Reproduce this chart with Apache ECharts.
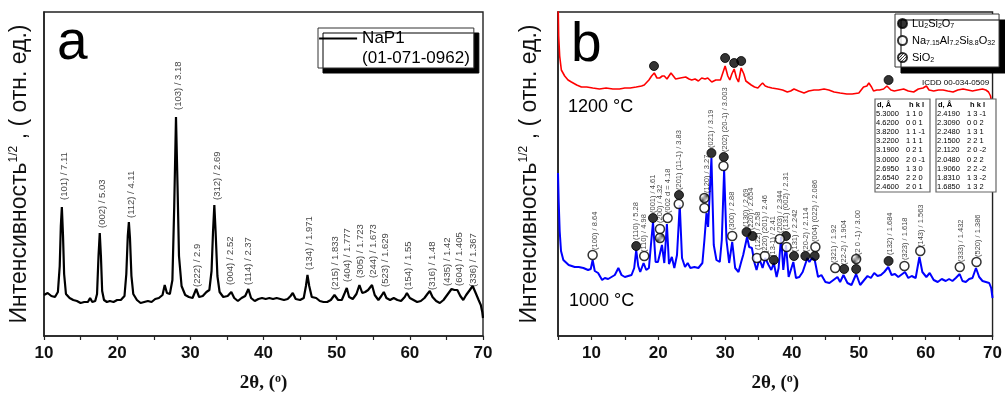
<!DOCTYPE html>
<html><head><meta charset="utf-8">
<script src="https://cdn.jsdelivr.net/npm/echarts@6/dist/echarts.min.js"></script>
<style>html,body{margin:0;padding:0;background:#fff}#c{width:1005px;height:399px}</style>
</head><body><div id="c"></div>
<script>
// ---------- Panel a: NaP1 pattern (2theta, intensity) ----------
const naP1 = [
[10.0,41],[10.5,43],[11.0,40],[11.5,39],[11.9,44],[12.15,70],[12.3,110],[12.44,129],[12.6,100],[12.75,62],[13.0,42],[13.5,38],[14.0,36],[14.5,35],[15.0,33],[15.5,34],[16.0,34],[16.3,38],[16.6,34],[17.0,35],[17.25,42],[17.45,80],[17.62,103],[17.78,80],[17.95,45],[18.2,36],[18.6,34],[19.0,35],[19.5,34],[20.0,36],[20.5,36],[21.0,40],[21.25,62],[21.45,100],[21.6,114],[21.75,98],[21.95,60],[22.2,42],[22.7,36],[23.2,33],[23.7,34],[24.2,35],[24.7,34],[25.2,37],[25.7,38],[26.2,41],[26.5,51],[26.8,43],[27.2,42],[27.55,56],[27.8,130],[28.04,219],[28.25,150],[28.45,80],[28.8,50],[29.3,41],[29.8,39],[30.3,38],[30.8,47],[31.2,39],[31.7,40],[32.2,44],[32.6,46],[32.9,65],[33.1,104],[33.28,131],[33.45,105],[33.7,60],[34.0,44],[34.5,39],[35.1,40],[35.6,44],[36.0,38],[36.5,35],[37.0,38],[37.5,40],[37.93,47],[38.3,38],[38.8,35],[39.3,37],[39.8,38],[40.3,37],[40.8,38],[41.3,37],[41.8,38],[42.3,37],[42.8,36],[43.3,37],[43.7,40],[44.0,43],[44.4,37],[45.0,36],[45.5,38],[45.8,50],[46.01,61],[46.25,50],[46.6,39],[47.2,38],[47.7,35],[48.2,34],[48.7,34],[49.2,36],[49.7,41],[50.2,36],[50.7,36],[51.1,43],[51.38,48],[51.7,39],[52.2,37],[52.7,42],[53.11,51],[53.5,43],[53.9,44],[54.3,46],[54.83,51],[55.2,41],[55.7,36],[56.1,40],[56.44,44],[56.8,38],[57.3,36],[57.8,38],[58.3,36],[58.8,35],[59.3,39],[59.6,43],[60.0,38],[60.5,36],[61.0,34],[61.5,35],[62.0,38],[62.4,42],[62.73,45],[63.1,39],[63.6,35],[64.1,33],[64.6,36],[65.1,41],[65.7,47],[66.1,46],[66.49,46],[66.9,40],[67.3,36],[67.7,41],[68.2,46],[68.59,50],[69.0,43],[69.4,36],[69.7,31],[69.9,24],[70.0,18]
];
const aLabels = ['(101) / 7.11','(002) / 5.03','(112) / 4.11','(103) / 3.18','(222) / 2.9','(312) / 2.69','(004) / 2.52','(114) / 2.37','(134) / 1.971','(215) / 1.833','(404) / 1.777','(305) / 1.723','(244) / 1.673','(523) / 1.629','(154) / 1.55','(316) / 1.48','(435) / 1.42','(604) / 1.405','(336) / 1.367'];
const aLabelX = [12.73,17.93,21.89,28.31,30.91,33.64,35.42,37.88,46.22,49.77,51.41,53.19,54.96,56.6,59.75,63.03,65.08,66.72,68.63];
const aLabelY = [136,108,118,226,49,136,51,51,66,46,54,58,58,49,46,46,50,50,49];

// ---------- Panel b ----------
const red1200 = [
[5.0,340],[5.1,300],[5.25,280],[5.5,266],[6.0,260],[6.5,256],[7.0,254],[7.8,251],[8.5,249],[9.3,249],[10.2,248],[11.2,247],[12.2,248],[13.2,247],[14.2,247],[15.0,248],[15.8,248],[16.7,249],[17.5,250],[17.9,251],[18.6,256],[19.0,260],[19.4,263],[19.8,258],[20.2,258],[20.6,260],[20.9,260],[21.3,257],[21.9,263],[22.6,257],[23.3,258],[24.1,259],[24.6,257],[25.0,256],[25.5,257],[26.0,255],[26.5,258],[27.0,257],[27.4,258],[28.0,254],[28.6,256],[29.3,256],[29.6,262],[30.0,270],[30.4,260],[30.7,256],[31.0,262],[31.35,267],[31.7,258],[32.0,254],[32.4,268],[32.8,262],[33.1,255],[33.5,253],[33.9,251],[34.4,249],[34.9,248],[35.3,251],[35.6,253],[36.0,250],[36.4,249],[37.0,248],[37.9,247],[38.6,246],[39.3,244],[39.8,245],[40.3,247],[41.0,245],[41.8,243],[42.5,245],[43.3,246],[44.0,246],[44.8,247],[45.5,246],[46.3,244],[47.2,243],[48.2,242],[49.0,242],[50.0,243],[50.7,249],[51.2,250],[51.5,253],[51.9,249],[52.2,245],[52.7,246],[53.1,246],[53.7,247],[54.2,250],[54.45,250],[54.8,246],[55.3,245],[56.0,246],[56.7,247],[57.4,245],[58.2,244],[58.9,247],[59.6,248],[60.1,250],[60.5,246],[61.2,245],[61.9,246],[62.6,246],[63.3,245],[64.1,244],[64.8,246],[65.6,247],[66.3,246],[67.0,245],[67.7,246],[68.5,247],[69.0,246],[69.4,244],[69.7,240],[69.9,232],[70.0,228]
];
const blue1000 = [
[5.0,163],[5.1,135],[5.25,105],[5.45,85],[5.8,76],[6.6,71],[7.5,69],[8.1,69],[8.8,68],[9.5,66],[9.9,67],[10.18,76],[10.5,65],[11.0,63],[11.6,56],[12.0,58],[12.5,57],[13.0,59],[13.5,61],[14.03,68],[14.5,61],[15.0,59],[15.5,60],[16.0,61],[16.4,68],[16.7,86],[17.0,70],[17.3,64],[17.8,73],[18.2,66],[18.6,68],[18.9,91],[19.21,114],[19.6,74],[19.95,74],[20.55,91],[20.9,73],[21.29,112],[21.6,72],[22.03,79],[22.4,68],[22.8,81],[23.21,131],[23.55,78],[24.0,69],[24.4,73],[24.8,68],[25.4,69],[26.0,68],[26.6,73],[26.9,96],[27.21,123],[27.45,109],[27.95,178],[28.3,91],[28.7,76],[29.2,74],[29.5,96],[29.85,166],[30.2,96],[30.6,73],[31.06,94],[31.5,68],[32.0,64],[32.4,74],[32.7,81],[33.28,99],[33.6,89],[34.0,88],[34.4,73],[34.7,66],[35.0,74],[35.3,74],[35.6,68],[36.0,78],[36.5,71],[36.9,66],[37.28,73],[37.7,59],[38.0,68],[38.37,99],[38.7,66],[39.1,91],[39.5,59],[40.2,74],[40.6,58],[41.1,59],[41.6,64],[42.3,78],[42.6,74],[43.0,78],[43.4,76],[43.9,59],[44.4,61],[45.0,54],[45.6,53],[46.2,56],[46.8,59],[47.2,54],[47.7,61],[48.3,53],[48.9,51],[49.6,62],[50.2,51],[50.8,56],[51.3,60],[51.8,58],[52.3,63],[52.8,60],[53.3,61],[53.8,64],[54.4,69],[54.9,61],[55.4,62],[55.9,59],[56.3,61],[56.9,64],[57.4,58],[57.9,60],[58.5,58],[59.06,79],[59.5,64],[60.1,59],[60.6,63],[61.2,56],[61.8,54],[62.4,57],[63.0,55],[63.5,57],[64.0,55],[64.5,58],[65.08,62],[65.5,55],[66.0,54],[66.5,57],[67.0,58],[67.52,68],[68.0,59],[68.5,55],[69.0,54],[69.5,53],[69.8,48],[70.0,38]
];
const luMarks = [[16.7,90],[19.21,118],[23.1,141],[27.95,183],[29.8,179],[33.2,104],[34.1,100],[37.28,76],[39.1,100],[40.3,80],[42.0,80],[43.4,80],[47.8,67],[49.6,67],[54.45,75],
                 [19.36,270],[30.0,278],[31.35,273],[32.4,275],[54.45,256]];
const naMarks = [[10.18,81],[17.9,80],[20.25,107],[21.4,118],[23.06,132],[26.9,128],[29.75,170],[31.06,100],[34.76,78],[35.94,80],[38.17,97],[39.2,89],[43.5,89],[46.46,68],[56.82,70],[59.19,85],[65.1,69],[67.6,74]];
const siMarks = [[20.25,98],[26.9,138],[49.6,77]];
const bLabels = ['(100) / 8.64','(110) / 5.28','(110) / 4.98','(001) / 4.61','(200) / 4.32','(002 d = 4.18','(201) (11-1) / 3.83','(120) / 3.27','(021) / 3.19','(202) (20-1) / 3.003','(300) / 2.88','(130) / 2.69','(220) / 2.654','(122) / 2.58','(220) (201) / 2.46','(13-1) / 2.41','(203) / 2.344','(131) (002) / 2.31','(131) / 2.242','(20-2) / 2.114','(004) (022) / 2.086','(321) / 1.92','(22-2) / 1.904','(2 0 -1) / 3.00','(132) / 1.684','(323) / 1.618','(143) / 1.563','(333) / 1.432','(520) / 1.386'];
const bLabelX = [10.48,16.70,17.88,19.21,20.25,21.43,23.06,27.21,27.95,30.02,31.06,33.13,33.87,34.91,35.94,37.13,38.17,39.05,40.39,42.02,43.50,46.31,47.79,49.86,54.60,56.97,59.34,65.26,67.78];
const bLabelY = [86,96,84,123,113,123,146,143,188,184,106,109,106,86,83,79,103,106,84,84,94,73,71,81,81,76,89,74,79];
const phaseNames = ['Lu2Si2O7','Na7.15Al7.2Si8.8O32','SiO2'];
const phaseRich = ['Lu{s|2}Si{s|2}O{s|7}','Na{s|7.15}Al{s|7.2}Si{s|8.8}O{s|32}','SiO{s|2}'];
const tableD1 = ['5.3000','4.6200','3.8200','3.2200','3.1900','3.0000','2.6950','2.6540','2.4600'];
const tableH1 = ['1 1 0','0 0 1','1 1 -1','1 1 1','0 2 1','2 0 -1','1 3 0','2 2 0','2 0 1'];
const tableD2 = ['2.4190','2.3090','2.2480','2.1500','2.1120','2.0480','1.9060','1.8310','1.6850'];
const tableH2 = ['1 3 -1','0 0 2','1 3 1','2 2 1','2 0 -2','0 2 2','2 2 -2','1 3 -2','1 3 2'];

// ---------- build ----------
const chart = echarts.init(document.getElementById('c'));
const hatch = document.createElement('canvas'); hatch.width = 3; hatch.height = 3;
const hc = hatch.getContext('2d');
hc.fillStyle = '#fff'; hc.fillRect(0,0,3,3);
hc.strokeStyle = '#000'; hc.lineWidth = 0.9;
hc.beginPath(); hc.moveTo(-0.5,3.5); hc.lineTo(3.5,-0.5); hc.stroke();

const AX = '#222';
const yName = 'Интенсивность{sup|1/2} , ( отн. ед.)';
function xAx(gi, min) {
  return {type:'value', gridIndex:gi, min:min, max:70, interval:5,
    axisLine:{show:true, onZero:false, lineStyle:{color:AX, width:1.6}},
    axisTick:{show:true, inside:false, length:4, lineStyle:{color:AX, width:1.2}},
    axisLabel:{margin:9, fontSize:17, fontWeight:'bold', fontFamily:'Arial', color:'#111',
      formatter: v => (v % 10 === 0 ? String(v) : '')},
    splitLine:{show:false},
    name:'2θ, ({sup|o})', nameLocation:'middle', nameGap:37,
    nameTextStyle:{fontFamily:'Liberation Serif', fontWeight:'bold', fontSize:19, color:'#111',
      rich:{sup:{fontFamily:'Liberation Serif', fontWeight:'bold', fontSize:12, color:'#111', padding:[0,0,8,0]}}}
  };
}
function yAx(gi, gap) {
  return {type:'value', gridIndex:gi, min:0, max:324,
    axisLine:{show:true, onZero:false, lineStyle:{color:AX, width:1.6}},
    axisTick:{show:false}, axisLabel:{show:false}, splitLine:{show:false},
    name:yName, nameLocation:'middle', nameRotate:90, nameGap:gap,
    nameTextStyle:{fontFamily:'Arial', fontSize:23, color:'#111',
      rich:{sup:{fontFamily:'Arial', fontSize:12, color:'#111', padding:[0,0,12,0]}}}
  };
}
function labelSeries(xi, xs, ys, texts, fs) {
  return {type:'scatter', xAxisIndex:xi, yAxisIndex:xi, silent:true, z:6,
    symbol:'circle', symbolSize:1, itemStyle:{color:'rgba(0,0,0,0)'},
    data: xs.map((x,i) => [x, ys[i]]),
    label:{show:true, position:'inside', rotate:90, align:'left', verticalAlign:'middle',
      fontSize:fs, fontFamily:'Arial', color:'#111', formatter: p => texts[p.dataIndex]}
  };
}
const graphics = [];
function txt(x, y, s, fs, extra) {
  graphics.push(Object.assign({type:'text', x:x, y:y, silent:true, z:10,
    style:Object.assign({text:s, fontSize:fs, fontFamily:'Arial', fill:'#000', verticalAlign:'middle'}, extra||{})}));
}
txt(57, 44, 'a', 55);
txt(571, 46, 'b', 55);
txt(568, 107, '1200 °C', 18);
txt(569, 301, '1000 °C', 18);
txt(922, 83, 'ICDD 00-034-0509', 8);
function table(x0, w, dArr, hArr, dx, hx) {
  graphics.push({type:'rect', silent:true, z:9, shape:{x:x0, y:99, width:w, height:93},
    style:{fill:'#fff', stroke:'#666', lineWidth:1.2}});
  txt(x0 + dx + 1, 105, 'd, Å', 7.5, {fontWeight:'bold'});
  txt(x0 + hx + 3, 105, 'h k l', 7.5, {fontWeight:'bold'});
  dArr.forEach((d, i) => {
    txt(x0 + dx, 113.5 + i * 9.2, d, 7.5);
    txt(x0 + hx, 113.5 + i * 9.2, hArr[i], 7.5);
  });
}
table(875, 55, tableD1, tableH1, 1, 31);
table(936, 60, tableD2, tableH2, 1, 31);

const option = {
  animation:false,
  backgroundColor:'#fff',
  grid:[
    {left:44, top:12, width:439, height:324, show:true, borderColor:AX, borderWidth:1.4, backgroundColor:'transparent'},
    {left:558, top:12, width:439, height:324, show:true, borderColor:AX, borderWidth:1.4, backgroundColor:'transparent'}
  ],
  xAxis:[xAx(0,10), xAx(1,5)],
  yAxis:[yAx(0,12), yAx(1,16)],
  legend:[
    {left:318, top:28, orient:'vertical', selectedMode:false,
     data:[{name:'NaP1', icon:'line', itemStyle:{color:'#000', borderColor:'#000', borderWidth:2.2}},
           {name:'(01-071-0962)', icon:'none'}],
     itemWidth:38, itemHeight:14, itemGap:3, padding:[2,4,1,0],
     backgroundColor:'#fff', borderColor:'#333', borderWidth:1,
     shadowColor:'#000', shadowBlur:0, shadowOffsetX:5, shadowOffsetY:5,
     textStyle:{fontSize:17, fontFamily:'Arial', color:'#000'}},
    {left:895, top:14, orient:'vertical', selectedMode:false,
     data:phaseNames, itemWidth:9, itemHeight:9, itemGap:5, padding:[4,4,3,2],
     backgroundColor:'#fff', borderColor:'#333', borderWidth:1,
     shadowColor:'#000', shadowBlur:0, shadowOffsetX:6, shadowOffsetY:6,
     formatter: n => phaseRich[phaseNames.indexOf(n)],
     textStyle:{fontSize:11, fontFamily:'Arial', color:'#000',
       rich:{s:{fontSize:7, fontFamily:'Arial', color:'#000', padding:[6,0,0,0]}}}}
  ],
  graphic: graphics,
  series:[
    {name:'NaP1', type:'line', xAxisIndex:0, yAxisIndex:0, data:naP1, symbol:'none', silent:true, z:3,
     lineStyle:{color:'#000', width:2.2}, itemStyle:{color:'#000'}},
    {name:'(01-071-0962)', type:'line', xAxisIndex:0, yAxisIndex:0, data:[], symbol:'none',
     lineStyle:{color:'#000', width:0}, itemStyle:{color:'#000'}},
    labelSeries(0, aLabelX, aLabelY, aLabels, 9.5),
    {name:'1200 °C', type:'line', xAxisIndex:1, yAxisIndex:1, data:red1200, symbol:'none', silent:true, z:3,
     lineStyle:{color:'#ff0000', width:1.6}, itemStyle:{color:'#ff0000'}},
    {name:'1000 °C', type:'line', xAxisIndex:1, yAxisIndex:1, data:blue1000, symbol:'none', silent:true, z:3,
     lineStyle:{color:'#0000ff', width:2}, itemStyle:{color:'#0000ff'}},
    {name:phaseNames[0], type:'scatter', xAxisIndex:1, yAxisIndex:1, data:luMarks, symbol:'circle', symbolSize:9, z:5,
     itemStyle:{color:'#000', borderColor:'#000', borderWidth:1}},
    {name:phaseNames[1], type:'scatter', xAxisIndex:1, yAxisIndex:1, data:naMarks, symbol:'circle', symbolSize:9, z:5,
     itemStyle:{color:'#fff', borderColor:'#000', borderWidth:1.5}},
    {name:phaseNames[2], type:'scatter', xAxisIndex:1, yAxisIndex:1, data:siMarks, symbol:'circle', symbolSize:9, z:5,
     itemStyle:{color:{image:hatch, repeat:'repeat'}, borderColor:'#000', borderWidth:1.5}},
    labelSeries(1, bLabelX, bLabelY, bLabels, 7.5)
  ]
};
chart.setOption(option);
</script>
</body></html>
